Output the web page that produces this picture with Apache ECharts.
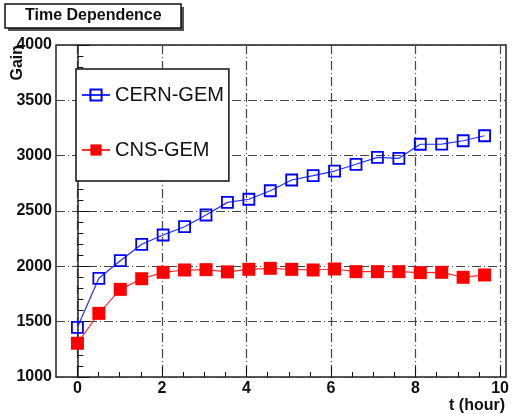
<!DOCTYPE html>
<html>
<head>
<meta charset="utf-8">
<title>Time Dependence</title>
<script src="https://cdn.jsdelivr.net/npm/echarts@6/dist/echarts.min.js"></script>
<style>
  html, body { margin: 0; padding: 0; background: #fff; }
  #chart { width: 512px; height: 414px; }
</style>
</head>
<body>
<div id="chart"></div>
<script>
// Elapsed time in hours, one reading every half hour
const hours = [0, 0.5, 1, 1.5, 2, 2.5, 3, 3.5, 4, 4.5, 5, 5.5, 6, 6.5, 7, 7.5, 8, 8.5, 9, 9.5];
// Gain readings of the two detectors
const cernGem = [1449, 1892, 2051, 2199, 2283, 2358, 2464, 2578, 2606, 2683, 2780, 2819, 2861, 2922, 2985, 2976, 3103, 3105, 3135, 3180];
const cnsGem  = [1305, 1575, 1792, 1888, 1946, 1967, 1970, 1950, 1973, 1982, 1973, 1967, 1976, 1952, 1952, 1952, 1943, 1946, 1901, 1922];
const seriesNames = ['CERN-GEM', 'CNS-GEM'];
const titleText = 'Time Dependence';
const xTitle = 't (hour)';
const yTitle = 'Gain';

const FONT = 'Liberation Sans, Arial, Helvetica, sans-serif';
const INK = '#111';
const GRID_DASH = [9, 3, 1, 3];

// Frame geometry: x runs from -0.5 to 10, labelled ticks start at 0
const X_MIN = -0.5, X_MAX = 10;
const GL = 56, GR = 6, GT = 45, GB = 37;
const W = 512 - GL - GR;
const tickGridLeft = GL + W * (0 - X_MIN) / (X_MAX - X_MIN);

const pairs = (xs, ys) => xs.map((x, i) => [x, ys[i]]);

const chart = echarts.init(document.getElementById('chart'), null, { renderer: 'canvas' });

chart.setOption({
  animation: false,
  backgroundColor: '#fff',
  title: {
    text: titleText,
    left: 5,
    top: 4,
    padding: [4, 20, 4, 20],
    borderColor: INK,
    borderWidth: 1.5,
    backgroundColor: '#fff',
    textStyle: { fontFamily: FONT, fontSize: 16, fontWeight: 'bold', color: INK, lineHeight: 16 }
  },
  legend: {
    data: seriesNames,
    orient: 'vertical',
    left: 76,
    top: 69,
    padding: [16, 5, 21, 5],
    itemWidth: 28,
    itemHeight: 14,
    itemGap: 35,
    borderColor: INK,
    borderWidth: 1.5,
    backgroundColor: '#fff',
    textStyle: { fontFamily: FONT, fontSize: 20, color: INK, lineHeight: 20 }
  },
  grid: [
    { // data frame
      left: GL, right: GR, top: GT, bottom: GB,
      show: true, borderColor: '#222', borderWidth: 1.5, backgroundColor: 'transparent'
    },
    { // labelled time axis, starting at t = 0
      left: tickGridLeft, right: GR, top: GT, bottom: GB
    }
  ],
  xAxis: [
    { gridIndex: 0, type: 'value', min: X_MIN, max: X_MAX, show: false },
    {
      gridIndex: 1, type: 'value', min: 0, max: 10, interval: 2,
      axisLine: { show: false },
      axisTick: { show: true, inside: true, length: 10, lineStyle: { color: INK, width: 1 } },
      minorTick: { show: true, splitNumber: 4, length: 5, lineStyle: { color: INK, width: 1 } },
      splitLine: { show: true, lineStyle: { color: '#444', width: 1.2, type: GRID_DASH } },
      axisLabel: { margin: 4, fontFamily: FONT, fontSize: 16, fontWeight: 'bold', color: INK }
    }
  ],
  yAxis: [
    {
      gridIndex: 0, type: 'value', min: 1000, max: 4000, interval: 500,
      axisLine: { show: true, lineStyle: { color: '#222', width: 1.5 } },
      axisTick: { show: true, inside: true, length: 12, lineStyle: { color: INK, width: 1 } },
      minorTick: { show: true, splitNumber: 5, length: 6, lineStyle: { color: INK, width: 1 } },
      splitLine: { show: true, lineStyle: { color: '#444', width: 1.2, type: GRID_DASH } },
      axisLabel: {
        margin: 4, fontFamily: FONT, fontSize: 16, fontWeight: 'bold', color: INK,
        formatter: v => String(v)
      }
    },
    { gridIndex: 1, type: 'value', min: 1000, max: 4000, show: false }
  ],
  series: [
    {
      name: seriesNames[0],
      type: 'line',
      xAxisIndex: 0, yAxisIndex: 0,
      data: pairs(hours, cernGem),
      symbol: 'rect',
      symbolSize: 11,
      clip: false,
      lineStyle: { color: '#2233ff', width: 1.2 },
      itemStyle: { color: 'rgba(255,255,255,0)', borderColor: '#0000ff', borderWidth: 1.8 },
      z: 3
    },
    {
      name: seriesNames[1],
      type: 'line',
      xAxisIndex: 0, yAxisIndex: 0,
      data: pairs(hours, cnsGem),
      symbol: 'rect',
      symbolSize: 13,
      clip: false,
      lineStyle: { color: '#ff3030', width: 1.2 },
      itemStyle: { color: '#ff0000', borderWidth: 0 },
      z: 3
    }
  ],
  graphic: [
    { // drop shadow of the title box
      type: 'rect', z: 0, silent: true,
      shape: { x: 8, y: 7, width: 176, height: 24 },
      style: { fill: '#555' }
    },
    {
      type: 'text', silent: true,
      x: 18, y: 45, rotation: Math.PI / 2,
      style: { text: yTitle, font: 'bold 16px ' + FONT, fill: INK, align: 'right', verticalAlign: 'middle' }
    },
    {
      type: 'text', silent: true,
      x: 505, y: 406,
      style: { text: xTitle, font: 'bold 16px ' + FONT, fill: INK, align: 'right', verticalAlign: 'middle' }
    }
  ]
});
</script>
</body>
</html>
